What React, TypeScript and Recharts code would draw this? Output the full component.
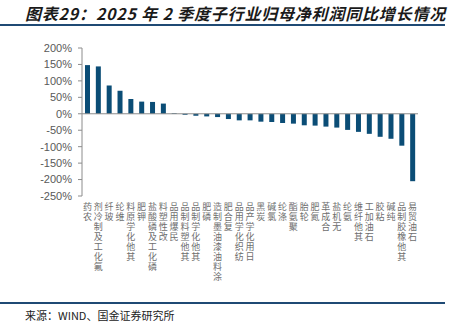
import React from "react";
import { BarChart, Bar, XAxis, YAxis, ReferenceLine } from "recharts";

// 2025 Q2 sub-industry net profit YoY growth (%)
const categories = [
  "农药",
  "氟化工及制冷剂",
  "玻纤",
  "维纶",
  "其他化学原料",
  "钾肥",
  "磷化工及磷酸盐",
  "改性塑料",
  "民爆用品",
  "其他塑料制品",
  "其他化学制品",
  "磷肥",
  "涂料油漆油墨制造",
  "复合肥",
  "纺织化学用品",
  "日用化学产品",
  "炭黑",
  "氯碱",
  "涤纶",
  "聚氨酯",
  "轮胎",
  "氮肥",
  "合成革",
  "无机盐",
  "氨纶",
  "其他纤维",
  "石油加工",
  "粘胶",
  "纯碱",
  "其他橡胶制品",
  "石油贸易",
];

const growth = [
  148, 144, 86, 70, 45, 37, 36, 31, 2, -3, -6, -8, -10, -16, -20, -20, -24,
  -25, -28, -30, -35, -36, -39, -42, -49, -55, -61, -70, -76, -97, -205,
];

const yTicks = [200, 150, 100, 50, 0, -50, -100, -150, -200, -250];

const data = categories.map((name, i) => ({ name, growth: growth[i] }));

const BAR_COLOR = "#0b4d76";
const AXIS_COLOR = "#8c8c8c";

// category labels: upright characters stacked, read bottom to top, hanging from the axis
function StackedTick({ x, y, payload }: any) {
  const chars = Array.from(String(payload.value)).reverse();
  return (
    <g>
      {chars.map((c, i) => (
        <text
          key={i}
          x={x}
          y={y + 14 + i * 10}
          textAnchor="middle"
          fontSize={9}
          fill="#6e6e6e"
          fontFamily="'Noto Sans CJK SC', sans-serif"
        >
          {c}
        </text>
      ))}
    </g>
  );
}

export default function App() {
  return (
    <div
      style={{
        position: "relative",
        width: 453,
        height: 325,
        background: "#fff",
        fontFamily: "'Noto Sans CJK SC', sans-serif",
        overflow: "hidden",
      }}
    >
      <style>{`body{margin:0}`}</style>
      <div
        style={{
          position: "absolute",
          left: 25,
          top: 3,
          fontSize: 16,
          lineHeight: "20px",
          fontWeight: 700,
          fontStyle: "italic",
          letterSpacing: 0.8,
          color: "#1a1a1a",
          whiteSpace: "nowrap",
        }}
      >
        图表29：2025 年 2 季度子行业归母净利润同比增长情况
      </div>
      <div
        style={{
          position: "absolute",
          left: 0,
          top: 24,
          width: 445,
          height: 2,
          background: "#1f4a74",
        }}
      />
      <div style={{ position: "absolute", left: 0, top: 38 }}>
        <BarChart
          width={453}
          height={262}
          data={data}
          margin={{ top: 10, right: 35, left: 0, bottom: 0 }}
        >
          <XAxis
            dataKey="name"
            height={104}
            interval={0}
            axisLine={false}
            tickLine={false}
            tickSize={0}
            tickMargin={0}
            tick={<StackedTick />}
          />
          <YAxis
            width={82}
            domain={[-250, 200]}
            ticks={yTicks}
            interval={0}
            tickFormatter={(v) => `${v}%`}
            tick={{ fontSize: 11, fill: "#595959", fontFamily: "'Liberation Sans', Arial, sans-serif" }}
            tickSize={4}
            tickMargin={6}
            stroke={AXIS_COLOR}
          />
          <ReferenceLine y={0} stroke={AXIS_COLOR} />
          <Bar dataKey="growth" fill={BAR_COLOR} barSize={5} isAnimationActive={false} />
        </BarChart>
      </div>
      <div
        style={{
          position: "absolute",
          left: 0,
          top: 302,
          width: 445,
          height: 2,
          background: "#1f4a74",
        }}
      />
      <div
        style={{
          position: "absolute",
          left: 25,
          top: 307,
          fontSize: 11,
          lineHeight: "16px",
          color: "#222",
          whiteSpace: "nowrap",
        }}
      >
        来源：WIND、国金证券研究所
      </div>
    </div>
  );
}
